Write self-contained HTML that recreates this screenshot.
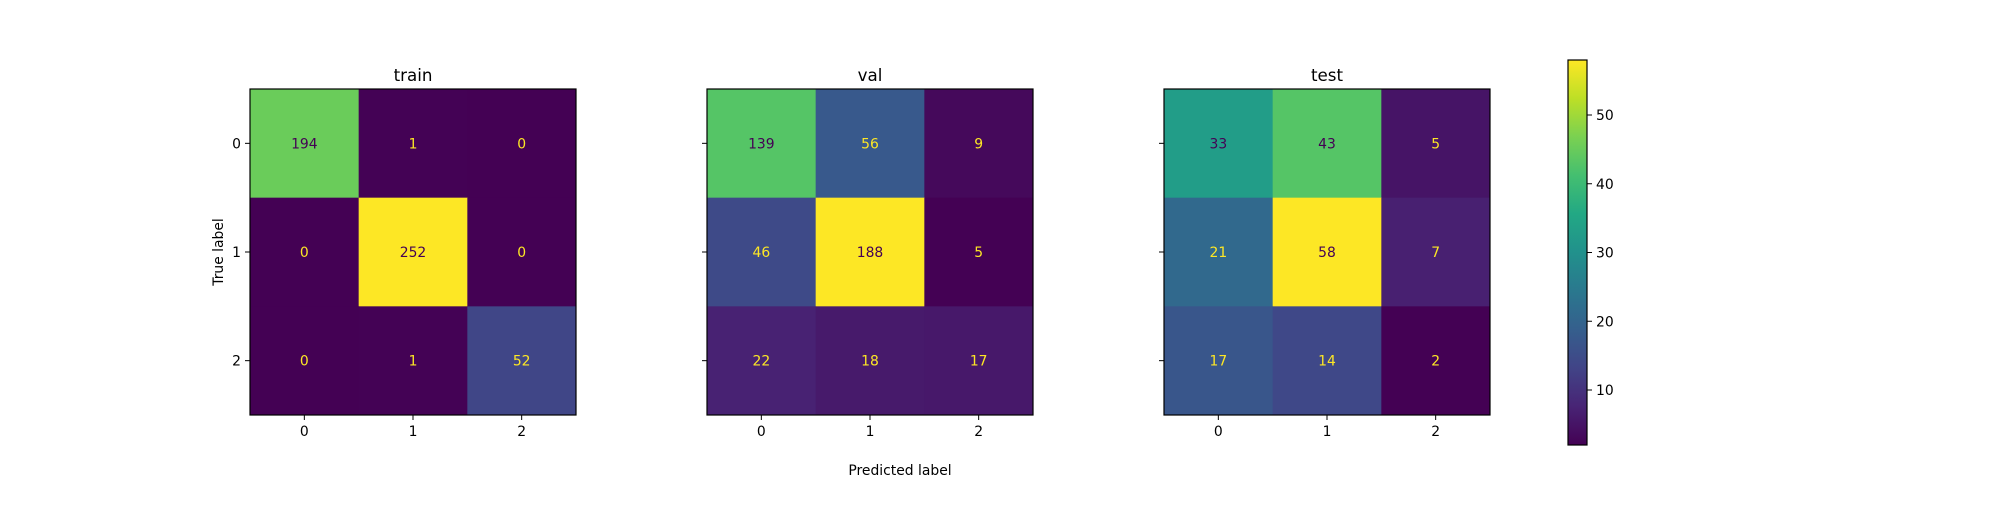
<!DOCTYPE html>
<html><head><meta charset="utf-8"><style>
body{margin:0;background:#fff;}
svg text{font-family:"DejaVu Sans","Liberation Sans",sans-serif;}
</style></head><body>
<svg id="fig" width="2000" height="500" viewBox="0 0 2000 500" xmlns="http://www.w3.org/2000/svg">
<rect width="2000" height="500" fill="#fff"/>
</svg>
<script>
const titles = ["train","val","test"];
const classes = ["0","1","2"];
const trainVals = [[194,1,0],[0,252,0],[0,1,52]];
const valVals = [[139,56,9],[46,188,5],[22,18,17]];
const testVals = [[33,43,5],[21,58,7],[17,14,2]];
const cbTicks = [10,20,30,40,50];

const NS="http://www.w3.org/2000/svg";
const svg=document.getElementById('fig');
function mk(tag,attrs,parent){const e=document.createElementNS(NS,tag);for(const k in attrs)e.setAttribute(k,attrs[k]);(parent||svg).appendChild(e);return e;}
const vir=["#440154","#482475","#414487","#355f8d","#2a788e","#21918c","#22a884","#44bf70","#7ad151","#bddf26","#fde725"];
function hx(c){return [1,3,5].map(i=>parseInt(c.substr(i,2),16));}
function viridis(t){t=Math.max(0,Math.min(1,t));const p=t*10,i=Math.min(9,Math.floor(p)),f=p-i;const a=hx(vir[i]),b=hx(vir[i+1]);return "rgb("+a.map((v,k)=>Math.round(v+(b[k]-v)*f)).join(",")+")";}

const axLefts=[250,707,1164], axTop=89, axSize=326;
const mats=[trainVals,valVals,testVals];
mats.forEach((m,pi)=>{
  const L=axLefts[pi], cell=axSize/3;
  const flat=m.flat(), mn=Math.min(...flat), mx=Math.max(...flat);
  const g=mk('g',{});
  
  
  const xs=j=>L+cell*(j+0.5), ys=i=>axTop+cell*(i+0.5);
  m.forEach((row,i)=>row.forEach((v,j)=>{
    const t=(v-mn)/(mx-mn);
    const r=mk('rect',{x:L+cell*j,y:axTop+cell*i,width:cell+0.5,height:cell+0.5,fill:viridis(t)},g);
    
    
    const tx=mk('text',{x:xs(j),y:ys(i)+5,'text-anchor':'middle','font-size':13.9,fill:v<(mx+mn)/2?"#fde725":"#440154"},g);
    tx.textContent=v;
    
    
  }));
  mk('rect',{x:L,y:axTop,width:axSize,height:axSize,fill:'none',stroke:'#000','stroke-width':1.2},g);
  classes.forEach((c,k)=>{
    mk('line',{x1:xs(k),x2:xs(k),y1:axTop+axSize,y2:axTop+axSize+5,stroke:'#000'},g);
    const tl=mk('text',{x:xs(k),y:axTop+axSize+21,'text-anchor':'middle','font-size':13.9,fill:'#000'},g);
    tl.textContent=c;
    
    
    mk('line',{x1:L-5,x2:L,y1:ys(k),y2:ys(k),stroke:'#000'},g);
    if(pi===0){
      const yl=mk('text',{x:L-9,y:ys(k)+5,'text-anchor':'end','font-size':13.9,fill:'#000'},g);
      yl.textContent=c;
      
      
    }
  });
  const tt=mk('text',{x:L+axSize/2,y:81,'text-anchor':'middle','font-size':16.7,fill:'#000'},g);
  tt.textContent=titles[pi];
  
  
});
const yt=mk('text',{x:0,y:0,'text-anchor':'middle','font-size':13.9,fill:'#000',transform:'translate(223,252) rotate(-90)'});
yt.textContent="True label";


const xt=mk('text',{x:900,y:475,'text-anchor':'middle','font-size':13.9,fill:'#000'});
xt.textContent="Predicted label";



// colorbar (test scale)
const tflat=testVals.flat(), cmin=Math.min(...tflat), cmax=Math.max(...tflat);
const cbX=1568, cbW=19, cbT=60, cbB=445;
const cbY=v=>cbB-(v-cmin)/(cmax-cmin)*(cbB-cbT);
const defs=mk('defs',{});
const lg=mk('linearGradient',{id:'cbg',x1:0,y1:1,x2:0,y2:0},defs);
vir.forEach((c,i)=>mk('stop',{offset:i/10,'stop-color':c},lg));
const cb=mk('rect',{x:cbX,y:cbT,width:cbW,height:cbB-cbT,fill:'url(#cbg)',stroke:'#000','stroke-width':1.2});


cbTicks.forEach(v=>{
  mk('line',{x1:cbX+cbW,x2:cbX+cbW+5,y1:cbY(v),y2:cbY(v),stroke:'#000'});
  const t=mk('text',{x:cbX+cbW+9,y:cbY(v)+5,'font-size':13.9,fill:'#000'});
  t.textContent=v;
  
  
});
</script>
</body></html>
